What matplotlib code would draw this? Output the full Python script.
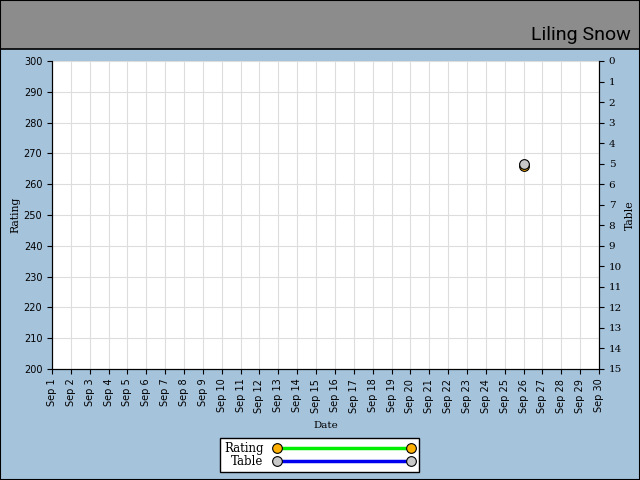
import matplotlib.pyplot as plt
from matplotlib.lines import Line2D
from matplotlib.patches import Rectangle

days = list(range(1, 31))
day_labels = ["Sep %d" % d for d in days]
point_days = [26]
rating = [266]
table = [5]

bg = "#a6c3dc"
fig = plt.figure(figsize=(6.4, 4.8), dpi=100, facecolor=bg)

# grey header band with the name
fig.patches.append(Rectangle((0, 1 - 49 / 480), 1, 49 / 480, transform=fig.transFigure,
                             facecolor="#8c8c8c", edgecolor="black", linewidth=1.2, zorder=0))
fig.patches.append(Rectangle((0, 0), 1, 1, transform=fig.transFigure, fill=False,
                             edgecolor="black", linewidth=1.5, zorder=5))
fig.text(0.985, 1 - 35 / 480, "Liling Snow", ha="right", va="center", fontsize=14,
         family="Roboto", color="black")

ax = fig.add_axes([52 / 640, 1 - 369 / 480, 547 / 640, 308 / 480])
ax.set_facecolor("white")
ax.set_xlim(1, 30)
ax.set_ylim(200, 300)
ax.set_xticks(days)
ax.set_xticklabels(day_labels, rotation=90, fontsize=7)
ax.set_yticks(range(200, 301, 10))
ax.tick_params(axis="y", labelsize=7)
ax.grid(True, color="#dddddd", linewidth=0.8)
ax.set_axisbelow(True)
ax.spines["top"].set_visible(False)
for s in ["left", "bottom", "right"]:
    ax.spines[s].set_color("black")
ax.set_xlabel("Date", family="DejaVu Serif", fontsize=7.5, labelpad=6)
ax.set_ylabel("Rating", family="DejaVu Serif", fontsize=7.8, labelpad=2)

ax2 = ax.twinx()
ax2.set_ylim(15, 0)
ax2.set_yticks(range(0, 16))
ax2.set_yticklabels([str(i) for i in range(16)], family="DejaVu Serif", fontsize=7.5)
ax2.spines["top"].set_visible(False)
ax2.set_ylabel("Table", family="DejaVu Serif", fontsize=7.8, labelpad=2)

ax.plot(point_days, rating, color="#00ee00", lw=2.5, marker="o", ms=7,
        markerfacecolor="#ffb000", markeredgecolor="black", markeredgewidth=0.8, zorder=3)
ax2.plot(point_days, table, color="#0000ee", lw=2.5, marker="o", ms=7,
         markerfacecolor="#c8c8c8", markeredgecolor="black", markeredgewidth=0.8, zorder=4)

handles = [
    Line2D([], [], color="#00ee00", lw=2.5, marker="o", ms=7,
           markerfacecolor="#ffb000", markeredgecolor="black", markeredgewidth=0.8),
    Line2D([], [], color="#0000ee", lw=2.5, marker="o", ms=7,
           markerfacecolor="#c8c8c8", markeredgecolor="black", markeredgewidth=0.8),
]
leg = fig.legend(handles, ["Rating", "Table"], loc="center", bbox_to_anchor=(0.499, 0.052),
                 numpoints=2, handlelength=12, fancybox=False, framealpha=1,
                 edgecolor="black", borderpad=0.35, labelspacing=0.05, handletextpad=0.8,
                 prop={"family": "DejaVu Serif", "size": 8.5}, markerfirst=False)

fig.savefig("out.png", dpi=100, facecolor=bg)
